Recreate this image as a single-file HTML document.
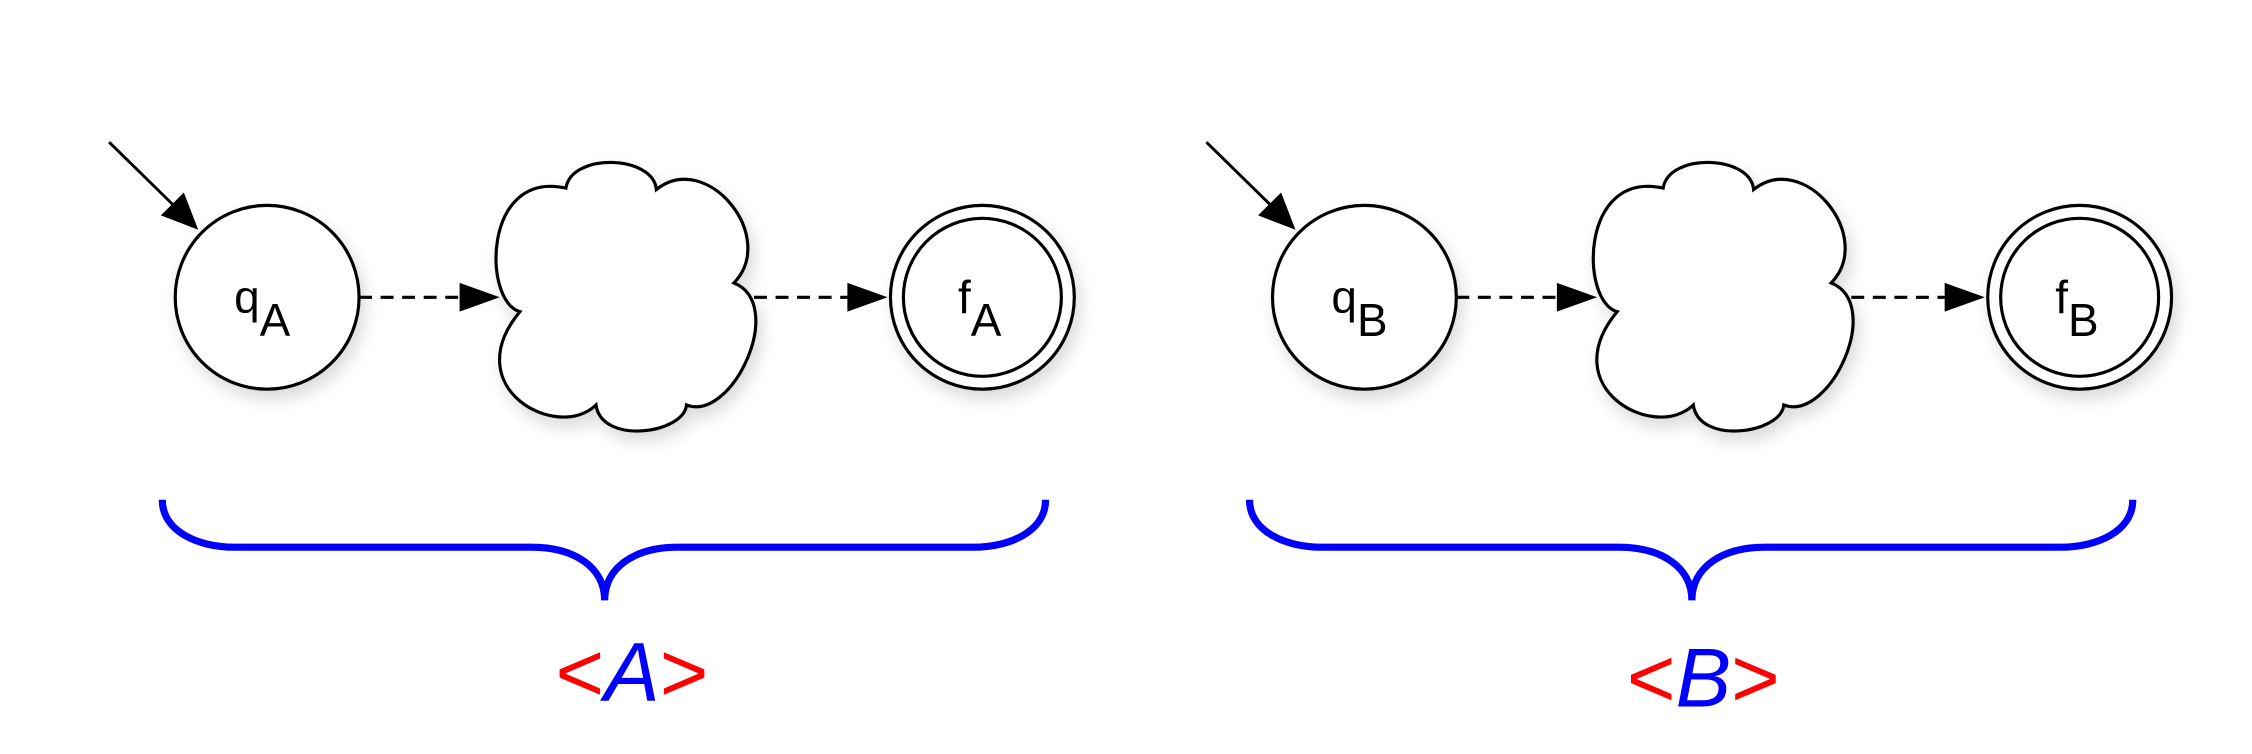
<!DOCTYPE html>
<html><head><meta charset="utf-8"><style>
html,body{margin:0;padding:0;background:#fff;}
svg{display:block;}
</style></head><body>
<svg width="2252" height="754" viewBox="0 0 1568 525" preserveAspectRatio="none" xmlns="http://www.w3.org/2000/svg">
<defs>
<filter id="sh" x="-30%" y="-30%" width="160%" height="160%">
<feGaussianBlur in="SourceAlpha" stdDeviation="6"/>
<feOffset dx="3" dy="6"/>
<feComponentTransfer><feFuncA type="linear" slope="0.15"/></feComponentTransfer>
<feMerge><feMergeNode/><feMergeNode in="SourceGraphic"/></feMerge>
</filter>
<g id="grp">
<line x1="76" y1="99" x2="125" y2="147" stroke="#000" stroke-width="2"/>
<path d="M138,160 L112,150 L128,134 Z" fill="#000"/>
<circle cx="186" cy="207" r="64" fill="#fff" stroke="#000" stroke-width="2.2" filter="url(#sh)"/>
<line x1="250" y1="207" x2="322" y2="207" stroke="#000" stroke-width="2.2" stroke-dasharray="9,6"/>
<path d="M348,207 L320,197 L320,217 Z" fill="#000"/>
<path d="M362,217 C336,210 336,118 394,131 C398,106 455,108 457,132 C492,104 542,165 511,197 C548,212 510,294 478,282 C476,302 419,310 415,282 C388,308 318,270 362,217 Z" fill="#fff" stroke="#000" stroke-width="2.2" filter="url(#sh)"/>
<line x1="525" y1="207" x2="592" y2="207" stroke="#000" stroke-width="2.2" stroke-dasharray="9,6"/>
<path d="M618,207 L590,197 L590,217 Z" fill="#000"/>
<circle cx="684" cy="207" r="64" fill="#fff" stroke="#000" stroke-width="2.2" filter="url(#sh)"/>
<circle cx="684" cy="207" r="55" fill="none" stroke="#000" stroke-width="2.2"/>
</g>
</defs>
<use href="#grp"/>
<use href="#grp" transform="translate(764,0)"/>
<g font-family="Liberation Sans, sans-serif" font-size="32" fill="#000">
<text x="163" y="218">q<tspan dy="16">A</tspan></text>
<text x="667" y="218">f<tspan dy="16">A</tspan></text>
<text x="927" y="218">q<tspan dy="16">B</tspan></text>
<text x="1431" y="218">f<tspan dy="16">B</tspan></text>
</g>
<path d="M113,348 C113,370 138,381 163,381 L370,381 C400,381 421,395 421,418 C421,395 442,381 472,381 L678,381 C703,381 728,370 728,348" fill="none" stroke="#0000ff" stroke-width="5"/>
<path d="M870,348 C870,370 895,381 920,381 L1127,381 C1157,381 1178,395 1178,418 C1178,395 1199,381 1229,381 L1435,381 C1460,381 1485,370 1485,348" fill="none" stroke="#0000ff" stroke-width="5"/>
<g font-family="Liberation Sans, sans-serif" font-size="58">
<text x="440" y="488" text-anchor="middle"><tspan fill="#ff0000">&lt;</tspan><tspan fill="#0000ff" font-style="italic">A</tspan><tspan fill="#ff0000">&gt;</tspan></text>
<text x="1186" y="492" text-anchor="middle"><tspan fill="#ff0000">&lt;</tspan><tspan fill="#0000ff" font-style="italic">B</tspan><tspan fill="#ff0000">&gt;</tspan></text>
</g>
</svg>
</body></html>
